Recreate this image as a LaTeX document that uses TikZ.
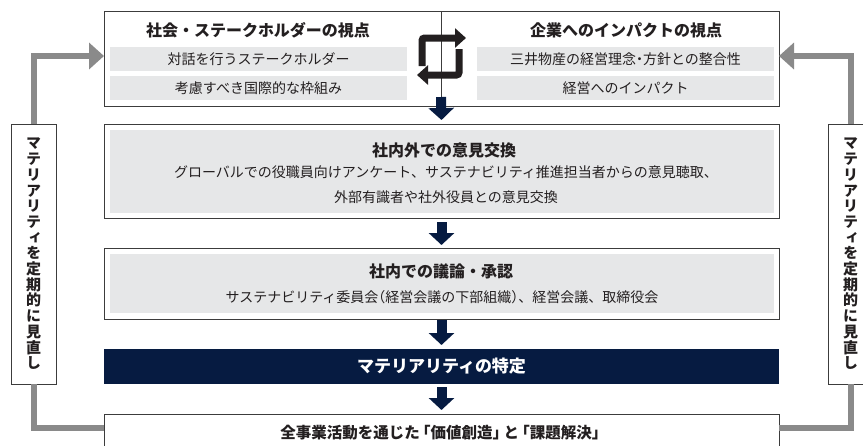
\documentclass[tikz,border=0pt]{standalone}
\usepackage{fontspec}
\setmainfont{Noto Sans CJK JP}
\newfontfamily\vfont[RawFeature=+vert]{Noto Sans CJK JP}
\usetikzlibrary{arrows.meta}
\definecolor{boxline}{HTML}{3C3C3C}
\definecolor{subgray}{HTML}{E6E7E8}
\definecolor{navy}{HTML}{061B41}
\definecolor{conngray}{HTML}{8A8A8A}
\definecolor{iconblack}{HTML}{231F20}
\definecolor{txt}{HTML}{231F20}
\newcommand{\vmattext}{マ\\テ\\リ\\ア\\リ\\テ\\ィ\\を\\定\\期\\的\\に\\見\\直\\し}
\begin{document}
\begin{tikzpicture}[x=1pt,y=-1pt,
  frame/.style={draw=boxline,line width=0.9pt,fill=white,inner sep=0pt,outer sep=0pt},
  fillbox/.style={fill=subgray,inner sep=0pt,outer sep=0pt},
  subbox/.style={fillbox,minimum width=297pt,minimum height=24pt,font=\fontsize{14}{17}\selectfont,text=txt},
  titletext/.style={font=\bfseries\fontsize{16}{19}\selectfont,text=txt,inner sep=0pt},
  bodytext/.style={font=\fontsize{14}{17}\selectfont,text=txt,inner sep=0pt},
  sidebox/.style={frame,minimum width=45pt,minimum height=260pt,align=center,
    font=\vfont\bfseries\fontsize{15}{15.7}\selectfont,text=txt},
  navyarrow/.style={draw=navy,line width=10pt,-{Triangle[length=12pt,width=25pt]}},
  gconn/.style={draw=conngray,line width=6pt},
  garrow/.style={gconn,-{Triangle[length=15pt,width=26pt]}},
  iconarrow/.style={draw=iconblack,line width=7pt,rounded corners=2.5pt,-{Triangle[length=11pt,width=19pt]}}
]
\useasboundingbox[fill=white] (0,0) rectangle (863,445);

% top boxes
\node[frame,minimum width=337pt,minimum height=95pt] (tl) at (272.5,58.5) {};
\node[frame,minimum width=338pt,minimum height=95pt] (tr) at (610,58.5) {};
\draw[boxline,line width=0.9pt] (tl.north east) -- (tl.south east);
\node[titletext] (tlt) at (258,30) {社会・ステークホルダーの視点};
\node[subbox] (tl1) at (258.5,59) {対話を行うステークホルダー};
\node[subbox] (tl2) at (258.5,88) {考慮すべき国際的な枠組み};
\node[titletext] (trt) at (626,30) {企業へのインパクトの視点};
\node[subbox] (tr1) at (625.5,59) {三井物産の経営理念\kern-.25em・\kern-.25em方針との整合性};
\node[subbox] (tr2) at (625.5,88) {経営へのインパクト};

% swap icon
\draw[iconarrow] (422,66) -- (422,38) -- (466,38);
\draw[iconarrow] (459,49) -- (459,75) -- (417,75);

% box 2
\node[frame,minimum width=675pt,minimum height=94pt] (b2) at (441.5,171) {};
\node[fillbox,minimum width=664pt,minimum height=83pt] (b2in) at (442,171.5) {};
\node[titletext] (b2t) at (444,150) {社内外での意見交換};
\node[bodytext] (b2a) at (446,172) {グローバルでの役職員向けアンケート、サステナビリティ推進担当者からの意見聴取、};
\node[bodytext] (b2b) at (446,197) {外部有識者や社外役員との意見交換};

% box 3
\node[frame,minimum width=675pt,minimum height=71pt] (b3) at (441.5,283.5) {};
\node[fillbox,minimum width=664pt,minimum height=59pt] (b3in) at (442,283.5) {};
\node[titletext] (b3t) at (441,271) {社内での議論・承認};
\node[bodytext] (b3a) at (442,297) {サステナビリティ委員会\kern-.5em（経営会議の下部組織）\kern-.5em、経営会議、取締役会};

% navy box
\node[fill=navy,inner sep=0pt,outer sep=0pt,minimum width=675pt,minimum height=35pt,
  text=white,font=\bfseries\fontsize{17}{20}\selectfont] (mat) at (441.5,366.5) {マテリアリティの特定};

% bottom box
\node[frame,minimum width=675pt,minimum height=38pt,text=txt,
  font=\bfseries\fontsize{15.5}{18}\selectfont] (fin) at (441.5,433)
  {全事業活動を通じた\kern-.3em「価値創造」\kern-.3em と\kern-.3em「課題解決」\kern-.3em};

% side boxes
\node[sidebox] (sideL) at (33.5,254) {\vmattext};
\node[sidebox] (sideR) at (850.5,254) {\vmattext};

% navy arrows
\coordinate (sepb) at (tl.south east);
\draw[navyarrow] ([yshift=9pt]sepb) -- ([yshift=4pt]b2.north);
\draw[navyarrow] ([yshift=-4pt]b2.south) -- ([yshift=3pt]b3.north);
\draw[navyarrow] ([yshift=-1pt]b3.south) -- ([yshift=4pt]mat.north);
\draw[navyarrow] ([yshift=-3pt]mat.south) -- ([yshift=4pt]fin.north);

% gray loop connectors
\draw[garrow] (sideL.north) |- ([yshift=2.5pt]tl.west);
\draw[garrow] (sideR.north) |- ([yshift=2.5pt]tr.east);
\draw[gconn] (sideL.south) |- ([yshift=5pt]fin.west);
\draw[gconn] (sideR.south) |- ([yshift=5pt]fin.east);
\end{tikzpicture}
\end{document}
